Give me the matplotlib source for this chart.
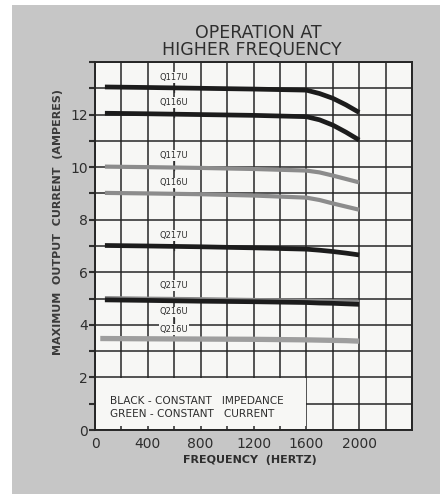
import matplotlib
matplotlib.use("Agg")
import matplotlib.pyplot as plt
from matplotlib.patches import Rectangle

# ---- data ----
freq = [75, 400, 800, 1200, 1600, 1700, 1800, 1900, 2000]
black_q117u = [13.05, 13.03, 13.0, 12.97, 12.93, 12.8, 12.62, 12.37, 12.08]
black_q116u = [12.05, 12.03, 12.0, 11.97, 11.92, 11.8, 11.6, 11.33, 11.03]
green_q117u = [10.02, 10.0, 9.97, 9.93, 9.87, 9.8, 9.68, 9.55, 9.42]
green_q116u = [9.02, 9.0, 8.97, 8.92, 8.84, 8.75, 8.62, 8.5, 8.38]
black_q217u = [7.02, 7.0, 6.97, 6.93, 6.88, 6.84, 6.79, 6.73, 6.66]
green_q217u = [5.0, 4.98, 4.96, 4.93, 4.9, 4.89, 4.88, 4.87, 4.86]
black_q216u = [4.95, 4.93, 4.9, 4.88, 4.85, 4.83, 4.82, 4.8, 4.78]
green_q216u = [3.48, 3.47, 3.46, 3.45, 3.43, 3.42, 3.41, 3.4, 3.38]

label_x = 600
labels = ["Q117U", "Q116U", "Q117U", "Q116U", "Q217U", "Q217U", "Q216U", "Q216U"]
label_y = [13.42, 12.47, 10.45, 9.4, 7.4, 5.5, 4.49, 3.83]
tick_below = [True, True, True, True, True, False, True, False]

x_ticklabels = ["0", "400", "800", "1200", "1600", "2000"]
y_ticklabels = ["0", "2", "4", "6", "8", "10", "12"]

BLACK = "#1c1c1c"
GREEN = "#8c8c8c"
GREEN_LIGHT = "#9e9e9e"
INK = "#2e2e2e"
PAPER = "#f7f7f5"

fig = plt.figure(figsize=(4.4, 4.94), dpi=100)
fig.patch.set_facecolor("white")
fig.patches.append(Rectangle((12 / 440, 0), 1, 1 - 5 / 494, transform=fig.transFigure,
                             facecolor="#c6c6c6", edgecolor="none", zorder=-10))

ax = fig.add_axes([95 / 440, 1 - 430 / 494, (412 - 95) / 440, (430 - 62) / 494])
ax.set_facecolor(PAPER)
ax.set_xlim(0, 2400)
ax.set_ylim(0, 14)

ax.set_xticks(range(0, 2401, 200))
ax.set_xticklabels([x_ticklabels[i // 2] if i % 2 == 0 and i // 2 < len(x_ticklabels) else ""
                    for i in range(13)])
ax.set_yticks(range(0, 15))
ax.set_yticklabels([y_ticklabels[i // 2] if i % 2 == 0 and i // 2 < len(y_ticklabels) else ""
                    for i in range(15)])
ax.tick_params(axis="x", length=0, pad=5, labelsize=10, colors=INK)
ax.tick_params(axis="y", length=4, width=1.5, pad=1, labelsize=10, colors=INK)
ax.set_axisbelow(True)
ax.grid(True, color="#262626", lw=1.1)
for s in ax.spines.values():
    s.set_color("#262626")
    s.set_linewidth(1.4)

# legend panel (covers grid in lower-left)
ax.add_patch(Rectangle((8, 0.14), 1592, 1.84, facecolor=PAPER, edgecolor="none", zorder=1))
ax.text(110, 1.1, "BLACK - CONSTANT   IMPEDANCE", fontsize=7.6, color=INK, va="center", zorder=3)
ax.text(110, 0.62, "GREEN - CONSTANT   CURRENT", fontsize=7.6, color=INK, va="center", zorder=3)

# curves
ax.plot(freq, black_q117u, color=BLACK, lw=3.4, solid_capstyle="butt", zorder=4)
ax.plot(freq, black_q116u, color=BLACK, lw=3.4, solid_capstyle="butt", zorder=4)
ax.plot(freq, green_q117u, color=GREEN, lw=3.0, solid_capstyle="butt", zorder=4)
ax.plot(freq, green_q116u, color=GREEN, lw=3.0, solid_capstyle="butt", zorder=4)
ax.plot(freq, black_q217u, color=BLACK, lw=3.4, solid_capstyle="butt", zorder=4)
ax.plot(freq, green_q217u, color=GREEN, lw=3.6, solid_capstyle="butt", zorder=4)
ax.plot(freq, black_q216u, color=BLACK, lw=3.4, solid_capstyle="butt", zorder=5)
ax.plot([40] + freq[1:], green_q216u, color=GREEN_LIGHT, lw=3.8, solid_capstyle="butt", zorder=4)

for lab, ly, tb in zip(labels, label_y, tick_below):
    ax.text(label_x, ly, lab, fontsize=6, color=INK, ha="center", va="center", zorder=6,
            bbox=dict(boxstyle="square,pad=0.1", facecolor=PAPER, edgecolor="none"))
    if tb:
        ax.plot([label_x, label_x], [ly - 0.22, ly - 0.55], color=INK, lw=0.9, zorder=3)

fig.text(258 / 440, 1 - 33 / 494, "OPERATION AT", fontsize=12.5, color=INK, ha="center", va="center")
fig.text(252 / 440, 1 - 50 / 494, "HIGHER FREQUENCY", fontsize=12.5, color=INK, ha="center", va="center")
fig.text(250 / 440, 1 - 460 / 494, "FREQUENCY  (HERTZ)", fontsize=8, fontweight="bold",
         color=INK, ha="center", va="center")
fig.text(58 / 440, 1 - 222 / 494, "MAXIMUM  OUTPUT  CURRENT  (AMPERES)", fontsize=8,
         fontweight="bold", color="#3a3a3a", ha="center", va="center", rotation=90)

fig.savefig("out.png", dpi=100, facecolor=fig.get_facecolor())
